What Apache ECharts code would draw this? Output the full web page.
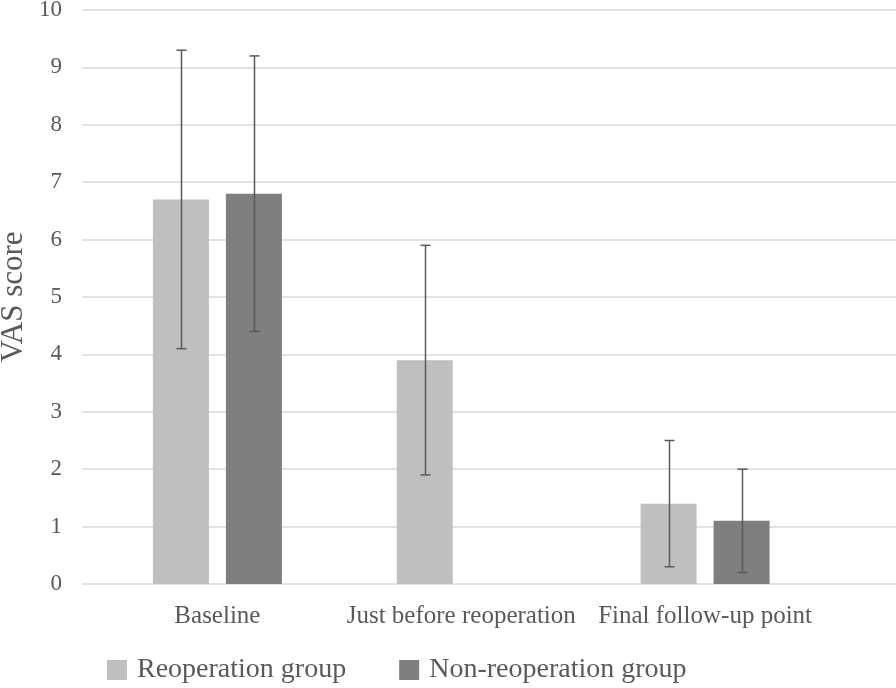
<!DOCTYPE html>
<html>
<head>
<meta charset="utf-8">
<script src="https://cdn.jsdelivr.net/npm/echarts@6/dist/echarts.min.js"></script>
<style>html,body{margin:0;padding:0;background:#fff;}#c{width:896px;height:688px;}</style>
</head>
<body>
<div id="c"></div>
<script>
const categories = ['Baseline', 'Just before reoperation', 'Final follow-up point'];
const seriesNames = ['Reoperation group', 'Non-reoperation group'];
const reopMean = [6.7, 3.9, 1.4];
const reopLow = [4.1, 1.9, 0.3];
const reopHigh = [9.3, 5.9, 2.5];
const nonMean = [6.8, null, 1.1];
const nonLow = [4.4, null, 0.2];
const nonHigh = [9.2, null, 2.0];
const yTicks = [0, 1, 2, 3, 4, 5, 6, 7, 8, 9, 10];

const FONT = "'Liberation Serif', 'Times New Roman', serif";
const TEXT = '#595959';
const BAR_W = 56;
const GAP_PX = 17;
const OFF = (BAR_W + GAP_PX) / 2;

function errSeries(low, high, sign) {
  return {
    type: 'custom',
    xAxisIndex: 0, yAxisIndex: 0,
    silent: true,
    z: 10,
    data: categories.map((c, i) => high[i] == null ? null : [i, low[i], high[i]]).filter(d => d),
    renderItem: function (params, api) {
      const lo = api.coord([api.value(0), api.value(1)]);
      const hi = api.coord([api.value(0), api.value(2)]);
      const x = Math.round(lo[0] + sign * OFF) + 0.5;
      const cap = 5;
      const st = { stroke: '#595959', lineWidth: 1.5 };
      return {
        type: 'group',
        children: [
          { type: 'line', shape: { x1: x, y1: hi[1], x2: x, y2: lo[1] }, style: st },
          { type: 'line', shape: { x1: x - cap, y1: hi[1], x2: x + cap, y2: hi[1] }, style: st },
          { type: 'line', shape: { x1: x - cap, y1: lo[1], x2: x + cap, y2: lo[1] }, style: st }
        ]
      };
    }
  };
}

const chart = echarts.init(document.getElementById('c'), null, { renderer: 'canvas' });
chart.setOption({
  backgroundColor: '#ffffff',
  animation: false,
  textStyle: { fontFamily: FONT, color: TEXT },
  grid: [
    { left: 95.5, right: 69, top: 10, bottom: 104, outerBoundsMode: 'none', containLabel: false },
    { left: 82, right: 0, top: 10, bottom: 104, outerBoundsMode: 'none', containLabel: false }
  ],
  legend: {
    data: seriesNames,
    left: 107, top: 656, padding: 0,
    itemWidth: 20, itemHeight: 20, itemGap: 53,
    icon: 'rect',
    textStyle: { fontFamily: FONT, fontSize: 28, color: TEXT, padding: [0, 0, 0, 5] }
  },
  xAxis: [
    {
      type: 'category', gridIndex: 0, data: categories,
      axisLine: { show: false }, axisTick: { show: false },
      axisLabel: { fontFamily: FONT, fontSize: 25, color: TEXT, margin: 20, interval: 0 }
    },
    { type: 'value', gridIndex: 1, show: false, min: 0, max: 1 }
  ],
  yAxis: [
    { type: 'value', gridIndex: 0, min: 0, max: 10, interval: 1, show: false },
    {
      type: 'value', gridIndex: 1, min: 0, max: 10, interval: 1,
      name: 'VAS score', nameLocation: 'middle', nameGap: 53, nameRotate: 90,
      nameMoveOverlap: false,
      nameTextStyle: { fontFamily: FONT, fontSize: 31, color: TEXT },
      axisLine: { show: false }, axisTick: { show: false },
      axisLabel: { fontFamily: FONT, fontSize: 23, color: TEXT, margin: 20,
        formatter: v => yTicks.includes(v) ? String(v) : '' },
      splitLine: { lineStyle: { color: '#d9d9d9', width: 1.5 } }
    }
  ],
  series: [
    { name: seriesNames[0], type: 'bar', xAxisIndex: 0, yAxisIndex: 0, data: reopMean,
      barWidth: BAR_W, barGap: (GAP_PX / BAR_W * 100) + '%', itemStyle: { color: '#bfbfbf' } },
    { name: seriesNames[1], type: 'bar', xAxisIndex: 0, yAxisIndex: 0, data: nonMean,
      barWidth: BAR_W, barGap: (GAP_PX / BAR_W * 100) + '%', itemStyle: { color: '#7f7f7f' } },
    errSeries(reopLow, reopHigh, -1),
    errSeries(nonLow, nonHigh, 1)
  ]
});
</script>
</body>
</html>
